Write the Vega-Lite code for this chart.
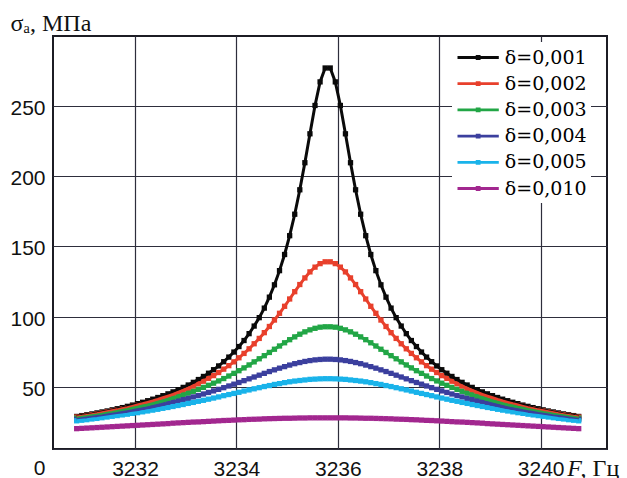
{
  "$schema": "https://vega.github.io/schema/vega-lite/v6.json",
  "width": 554,
  "height": 413,
  "autosize": {"type": "none"},
  "padding": {"left": 53, "top": 36, "right": 20, "bottom": 29},
  "background": "white",
  "config": {
    "view": {"stroke": "#1c1c24", "strokeWidth": 2},
    "axis": {
      "domain": false,
      "ticks": false,
      "grid": true,
      "gridColor": "#2e2e3c",
      "gridWidth": 1.2,
      "gridOpacity": 1,
      "labelFont": "Liberation Sans",
      "labelFontSize": 21,
      "labelColor": "#111111",
      "titleFont": "Liberation Serif",
      "titleFontSize": 24,
      "titleFontWeight": "normal",
      "titleColor": "#111111"
    },
    "legend": {
      "title": null,
      "orient": "none",
      "legendX": 399,
      "legendY": 6,
      "fillColor": "white",
      "padding": 4,
      "symbolType": "M-1,0H3.13M0.965,-0.1H1.165V0.1H0.965Z",
      "symbolSize": 400,
      "symbolStrokeWidth": 2.8,
      "labelFont": "DejaVu Serif",
      "labelFontSize": 19,
      "labelColor": "#000000",
      "labelOffset": 25.8,
      "labelLimit": 200,
      "rowPadding": 4.2
    }
  },
  "data": {
    "values": [
      {"F": 3230.85, "0,001": 28.8, "0,002": 28.4, "0,003": 27.6, "0,004": 26.7, "0,005": 25.7, "0,010": 20.1},
      {"F": 3230.95, "0,001": 29.4, "0,002": 28.9, "0,003": 28.2, "0,004": 27.2, "0,005": 26.1, "0,010": 20.3},
      {"F": 3231.05, "0,001": 30.0, "0,002": 29.5, "0,003": 28.7, "0,004": 27.7, "0,005": 26.5, "0,010": 20.5},
      {"F": 3231.15, "0,001": 30.6, "0,002": 30.1, "0,003": 29.3, "0,004": 28.2, "0,005": 27.0, "0,010": 20.7},
      {"F": 3231.25, "0,001": 31.3, "0,002": 30.7, "0,003": 29.8, "0,004": 28.7, "0,005": 27.4, "0,010": 20.9},
      {"F": 3231.35, "0,001": 32.0, "0,002": 31.4, "0,003": 30.4, "0,004": 29.2, "0,005": 27.9, "0,010": 21.1},
      {"F": 3231.45, "0,001": 32.7, "0,002": 32.1, "0,003": 31.1, "0,004": 29.8, "0,005": 28.4, "0,010": 21.3},
      {"F": 3231.55, "0,001": 33.5, "0,002": 32.8, "0,003": 31.7, "0,004": 30.4, "0,005": 28.9, "0,010": 21.5},
      {"F": 3231.65, "0,001": 34.3, "0,002": 33.5, "0,003": 32.4, "0,004": 30.9, "0,005": 29.4, "0,010": 21.7},
      {"F": 3231.75, "0,001": 35.1, "0,002": 34.3, "0,003": 33.1, "0,004": 31.6, "0,005": 29.9, "0,010": 21.9},
      {"F": 3231.85, "0,001": 36.0, "0,002": 35.1, "0,003": 33.8, "0,004": 32.2, "0,005": 30.4, "0,010": 22.1},
      {"F": 3231.95, "0,001": 36.9, "0,002": 36.0, "0,003": 34.6, "0,004": 32.8, "0,005": 31.0, "0,010": 22.3},
      {"F": 3232.05, "0,001": 37.9, "0,002": 36.9, "0,003": 35.3, "0,004": 33.5, "0,005": 31.5, "0,010": 22.5},
      {"F": 3232.15, "0,001": 38.9, "0,002": 37.8, "0,003": 36.2, "0,004": 34.2, "0,005": 32.1, "0,010": 22.7},
      {"F": 3232.25, "0,001": 40.0, "0,002": 38.8, "0,003": 37.0, "0,004": 34.9, "0,005": 32.7, "0,010": 22.9},
      {"F": 3232.35, "0,001": 41.1, "0,002": 39.8, "0,003": 37.9, "0,004": 35.7, "0,005": 33.3, "0,010": 23.1},
      {"F": 3232.45, "0,001": 42.3, "0,002": 40.9, "0,003": 38.9, "0,004": 36.5, "0,005": 33.9, "0,010": 23.3},
      {"F": 3232.55, "0,001": 43.6, "0,002": 42.1, "0,003": 39.8, "0,004": 37.3, "0,005": 34.6, "0,010": 23.5},
      {"F": 3232.65, "0,001": 44.9, "0,002": 43.3, "0,003": 40.9, "0,004": 38.1, "0,005": 35.2, "0,010": 23.7},
      {"F": 3232.75, "0,001": 46.3, "0,002": 44.5, "0,003": 41.9, "0,004": 39.0, "0,005": 35.9, "0,010": 24.0},
      {"F": 3232.85, "0,001": 47.9, "0,002": 45.9, "0,003": 43.1, "0,004": 39.8, "0,005": 36.6, "0,010": 24.2},
      {"F": 3232.95, "0,001": 49.5, "0,002": 47.3, "0,003": 44.2, "0,004": 40.8, "0,005": 37.3, "0,010": 24.4},
      {"F": 3233.05, "0,001": 51.2, "0,002": 48.8, "0,003": 45.4, "0,004": 41.7, "0,005": 38.1, "0,010": 24.6},
      {"F": 3233.15, "0,001": 53.1, "0,002": 50.4, "0,003": 46.7, "0,004": 42.7, "0,005": 38.8, "0,010": 24.8},
      {"F": 3233.25, "0,001": 55.1, "0,002": 52.1, "0,003": 48.1, "0,004": 43.7, "0,005": 39.6, "0,010": 24.9},
      {"F": 3233.35, "0,001": 57.3, "0,002": 53.9, "0,003": 49.5, "0,004": 44.8, "0,005": 40.3, "0,010": 25.1},
      {"F": 3233.45, "0,001": 59.6, "0,002": 55.9, "0,003": 51.0, "0,004": 45.9, "0,005": 41.1, "0,010": 25.3},
      {"F": 3233.55, "0,001": 62.1, "0,002": 57.9, "0,003": 52.5, "0,004": 47.0, "0,005": 41.9, "0,010": 25.5},
      {"F": 3233.65, "0,001": 64.8, "0,002": 60.1, "0,003": 54.1, "0,004": 48.1, "0,005": 42.7, "0,010": 25.7},
      {"F": 3233.75, "0,001": 67.8, "0,002": 62.5, "0,003": 55.8, "0,004": 49.3, "0,005": 43.6, "0,010": 25.9},
      {"F": 3233.85, "0,001": 71.1, "0,002": 65.0, "0,003": 57.6, "0,004": 50.5, "0,005": 44.4, "0,010": 26.0},
      {"F": 3233.95, "0,001": 74.7, "0,002": 67.7, "0,003": 59.5, "0,004": 51.8, "0,005": 45.2, "0,010": 26.2},
      {"F": 3234.05, "0,001": 78.6, "0,002": 70.6, "0,003": 61.4, "0,004": 53.0, "0,005": 46.0, "0,010": 26.4},
      {"F": 3234.15, "0,001": 82.9, "0,002": 73.7, "0,003": 63.4, "0,004": 54.3, "0,005": 46.9, "0,010": 26.5},
      {"F": 3234.25, "0,001": 87.8, "0,002": 77.0, "0,003": 65.5, "0,004": 55.6, "0,005": 47.7, "0,010": 26.7},
      {"F": 3234.35, "0,001": 93.2, "0,002": 80.6, "0,003": 67.7, "0,004": 56.9, "0,005": 48.5, "0,010": 26.8},
      {"F": 3234.45, "0,001": 99.2, "0,002": 84.4, "0,003": 69.9, "0,004": 58.2, "0,005": 49.3, "0,010": 26.9},
      {"F": 3234.55, "0,001": 106.0, "0,002": 88.5, "0,003": 72.1, "0,004": 59.5, "0,005": 50.1, "0,010": 27.1},
      {"F": 3234.65, "0,001": 113.8, "0,002": 92.9, "0,003": 74.4, "0,004": 60.8, "0,005": 50.8, "0,010": 27.2},
      {"F": 3234.75, "0,001": 122.6, "0,002": 97.5, "0,003": 76.7, "0,004": 62.0, "0,005": 51.6, "0,010": 27.3},
      {"F": 3234.85, "0,001": 132.7, "0,002": 102.3, "0,003": 79.0, "0,004": 63.2, "0,005": 52.2, "0,010": 27.4},
      {"F": 3234.95, "0,001": 144.2, "0,002": 107.3, "0,003": 81.3, "0,004": 64.3, "0,005": 52.9, "0,010": 27.5},
      {"F": 3235.05, "0,001": 157.6, "0,002": 112.5, "0,003": 83.5, "0,004": 65.4, "0,005": 53.5, "0,010": 27.5},
      {"F": 3235.15, "0,001": 172.9, "0,002": 117.7, "0,003": 85.5, "0,004": 66.4, "0,005": 54.0, "0,010": 27.6},
      {"F": 3235.25, "0,001": 190.3, "0,002": 122.8, "0,003": 87.4, "0,004": 67.2, "0,005": 54.4, "0,010": 27.7},
      {"F": 3235.35, "0,001": 209.6, "0,002": 127.5, "0,003": 89.1, "0,004": 68.0, "0,005": 54.8, "0,010": 27.7},
      {"F": 3235.45, "0,001": 230.2, "0,002": 131.8, "0,003": 90.5, "0,004": 68.6, "0,005": 55.2, "0,010": 27.8},
      {"F": 3235.55, "0,001": 250.4, "0,002": 135.2, "0,003": 91.6, "0,004": 69.1, "0,005": 55.4, "0,010": 27.8},
      {"F": 3235.65, "0,001": 267.2, "0,002": 137.7, "0,003": 92.4, "0,004": 69.4, "0,005": 55.6, "0,010": 27.8},
      {"F": 3235.75, "0,001": 277.1, "0,002": 139.0, "0,003": 92.7, "0,004": 69.6, "0,005": 55.7, "0,010": 27.8},
      {"F": 3235.85, "0,001": 277.1, "0,002": 139.0, "0,003": 92.7, "0,004": 69.6, "0,005": 55.7, "0,010": 27.8},
      {"F": 3235.95, "0,001": 267.2, "0,002": 137.7, "0,003": 92.4, "0,004": 69.4, "0,005": 55.6, "0,010": 27.8},
      {"F": 3236.05, "0,001": 250.4, "0,002": 135.2, "0,003": 91.6, "0,004": 69.1, "0,005": 55.4, "0,010": 27.8},
      {"F": 3236.15, "0,001": 230.2, "0,002": 131.8, "0,003": 90.5, "0,004": 68.6, "0,005": 55.2, "0,010": 27.8},
      {"F": 3236.25, "0,001": 209.6, "0,002": 127.5, "0,003": 89.1, "0,004": 68.0, "0,005": 54.8, "0,010": 27.7},
      {"F": 3236.35, "0,001": 190.3, "0,002": 122.8, "0,003": 87.4, "0,004": 67.2, "0,005": 54.4, "0,010": 27.7},
      {"F": 3236.45, "0,001": 172.9, "0,002": 117.7, "0,003": 85.5, "0,004": 66.4, "0,005": 54.0, "0,010": 27.6},
      {"F": 3236.55, "0,001": 157.6, "0,002": 112.5, "0,003": 83.5, "0,004": 65.4, "0,005": 53.5, "0,010": 27.5},
      {"F": 3236.65, "0,001": 144.2, "0,002": 107.3, "0,003": 81.3, "0,004": 64.3, "0,005": 52.9, "0,010": 27.5},
      {"F": 3236.75, "0,001": 132.7, "0,002": 102.3, "0,003": 79.0, "0,004": 63.2, "0,005": 52.2, "0,010": 27.4},
      {"F": 3236.85, "0,001": 122.6, "0,002": 97.5, "0,003": 76.7, "0,004": 62.0, "0,005": 51.6, "0,010": 27.3},
      {"F": 3236.95, "0,001": 113.8, "0,002": 92.9, "0,003": 74.4, "0,004": 60.8, "0,005": 50.8, "0,010": 27.2},
      {"F": 3237.05, "0,001": 106.0, "0,002": 88.5, "0,003": 72.1, "0,004": 59.5, "0,005": 50.1, "0,010": 27.1},
      {"F": 3237.15, "0,001": 99.2, "0,002": 84.4, "0,003": 69.9, "0,004": 58.2, "0,005": 49.3, "0,010": 26.9},
      {"F": 3237.25, "0,001": 93.2, "0,002": 80.6, "0,003": 67.7, "0,004": 56.9, "0,005": 48.5, "0,010": 26.8},
      {"F": 3237.35, "0,001": 87.8, "0,002": 77.0, "0,003": 65.5, "0,004": 55.6, "0,005": 47.7, "0,010": 26.7},
      {"F": 3237.45, "0,001": 82.9, "0,002": 73.7, "0,003": 63.4, "0,004": 54.3, "0,005": 46.9, "0,010": 26.5},
      {"F": 3237.55, "0,001": 78.6, "0,002": 70.6, "0,003": 61.4, "0,004": 53.0, "0,005": 46.0, "0,010": 26.4},
      {"F": 3237.65, "0,001": 74.7, "0,002": 67.7, "0,003": 59.5, "0,004": 51.8, "0,005": 45.2, "0,010": 26.2},
      {"F": 3237.75, "0,001": 71.1, "0,002": 65.0, "0,003": 57.6, "0,004": 50.5, "0,005": 44.4, "0,010": 26.0},
      {"F": 3237.85, "0,001": 67.8, "0,002": 62.5, "0,003": 55.8, "0,004": 49.3, "0,005": 43.6, "0,010": 25.9},
      {"F": 3237.95, "0,001": 64.8, "0,002": 60.1, "0,003": 54.1, "0,004": 48.1, "0,005": 42.7, "0,010": 25.7},
      {"F": 3238.05, "0,001": 62.1, "0,002": 57.9, "0,003": 52.5, "0,004": 47.0, "0,005": 41.9, "0,010": 25.5},
      {"F": 3238.15, "0,001": 59.6, "0,002": 55.9, "0,003": 51.0, "0,004": 45.9, "0,005": 41.1, "0,010": 25.3},
      {"F": 3238.25, "0,001": 57.3, "0,002": 53.9, "0,003": 49.5, "0,004": 44.8, "0,005": 40.3, "0,010": 25.1},
      {"F": 3238.35, "0,001": 55.1, "0,002": 52.1, "0,003": 48.1, "0,004": 43.7, "0,005": 39.6, "0,010": 24.9},
      {"F": 3238.45, "0,001": 53.1, "0,002": 50.4, "0,003": 46.7, "0,004": 42.7, "0,005": 38.8, "0,010": 24.8},
      {"F": 3238.55, "0,001": 51.2, "0,002": 48.8, "0,003": 45.4, "0,004": 41.7, "0,005": 38.1, "0,010": 24.6},
      {"F": 3238.65, "0,001": 49.5, "0,002": 47.3, "0,003": 44.2, "0,004": 40.8, "0,005": 37.3, "0,010": 24.4},
      {"F": 3238.75, "0,001": 47.9, "0,002": 45.9, "0,003": 43.1, "0,004": 39.8, "0,005": 36.6, "0,010": 24.2},
      {"F": 3238.85, "0,001": 46.3, "0,002": 44.5, "0,003": 41.9, "0,004": 39.0, "0,005": 35.9, "0,010": 24.0},
      {"F": 3238.95, "0,001": 44.9, "0,002": 43.3, "0,003": 40.9, "0,004": 38.1, "0,005": 35.2, "0,010": 23.7},
      {"F": 3239.05, "0,001": 43.6, "0,002": 42.1, "0,003": 39.8, "0,004": 37.3, "0,005": 34.6, "0,010": 23.5},
      {"F": 3239.15, "0,001": 42.3, "0,002": 40.9, "0,003": 38.9, "0,004": 36.5, "0,005": 33.9, "0,010": 23.3},
      {"F": 3239.25, "0,001": 41.1, "0,002": 39.8, "0,003": 37.9, "0,004": 35.7, "0,005": 33.3, "0,010": 23.1},
      {"F": 3239.35, "0,001": 40.0, "0,002": 38.8, "0,003": 37.0, "0,004": 34.9, "0,005": 32.7, "0,010": 22.9},
      {"F": 3239.45, "0,001": 38.9, "0,002": 37.8, "0,003": 36.2, "0,004": 34.2, "0,005": 32.1, "0,010": 22.7},
      {"F": 3239.55, "0,001": 37.9, "0,002": 36.9, "0,003": 35.3, "0,004": 33.5, "0,005": 31.5, "0,010": 22.5},
      {"F": 3239.65, "0,001": 36.9, "0,002": 36.0, "0,003": 34.6, "0,004": 32.8, "0,005": 31.0, "0,010": 22.3},
      {"F": 3239.75, "0,001": 36.0, "0,002": 35.1, "0,003": 33.8, "0,004": 32.2, "0,005": 30.4, "0,010": 22.1},
      {"F": 3239.85, "0,001": 35.1, "0,002": 34.3, "0,003": 33.1, "0,004": 31.6, "0,005": 29.9, "0,010": 21.9},
      {"F": 3239.95, "0,001": 34.3, "0,002": 33.5, "0,003": 32.4, "0,004": 30.9, "0,005": 29.4, "0,010": 21.7},
      {"F": 3240.05, "0,001": 33.5, "0,002": 32.8, "0,003": 31.7, "0,004": 30.4, "0,005": 28.9, "0,010": 21.5},
      {"F": 3240.15, "0,001": 32.7, "0,002": 32.1, "0,003": 31.1, "0,004": 29.8, "0,005": 28.4, "0,010": 21.3},
      {"F": 3240.25, "0,001": 32.0, "0,002": 31.4, "0,003": 30.4, "0,004": 29.2, "0,005": 27.9, "0,010": 21.1},
      {"F": 3240.35, "0,001": 31.3, "0,002": 30.7, "0,003": 29.8, "0,004": 28.7, "0,005": 27.4, "0,010": 20.9},
      {"F": 3240.45, "0,001": 30.6, "0,002": 30.1, "0,003": 29.3, "0,004": 28.2, "0,005": 27.0, "0,010": 20.7},
      {"F": 3240.55, "0,001": 30.0, "0,002": 29.5, "0,003": 28.7, "0,004": 27.7, "0,005": 26.5, "0,010": 20.5},
      {"F": 3240.65, "0,001": 29.4, "0,002": 28.9, "0,003": 28.2, "0,004": 27.2, "0,005": 26.1, "0,010": 20.3},
      {"F": 3240.75, "0,001": 28.8, "0,002": 28.4, "0,003": 27.6, "0,004": 26.7, "0,005": 25.7, "0,010": 20.1}
    ]
  },
  "transform": [
    {"fold": ["0,001", "0,002", "0,003", "0,004", "0,005", "0,010"], "as": ["delta", "sigma"]}
  ],
  "encoding": {
    "y": {
      "field": "sigma",
      "type": "quantitative",
      "scale": {"domain": [5.6, 299.9], "nice": false, "zero": false, "clamp": true},
      "axis": {
        "values": [0, 50, 100, 150, 200, 250],
        "labelPadding": 8,
        "labelOffset": {"condition": {"test": "datum.value == 0", "value": 19.5}, "value": 2.5},
        "title": "σₐ, МПа",
        "titleAngle": 0,
        "titleX": -43,
        "titleY": -6,
        "titleAlign": "left",
        "titleBaseline": "alphabetic"
      }
    }
  },
  "resolve": {"axis": {"x": "independent"}},
  "layer": [
    {
      "mark": {"type": "point", "shape": "square", "filled": true, "size": 28, "opacity": 1},
      "encoding": {
        "x": {
          "field": "F",
          "type": "quantitative",
          "scale": {"domain": [3230.383, 3241.308], "nice": false, "zero": false},
          "axis": {
            "orient": "bottom",
            "values": [3232, 3234, 3236, 3238, 3240],
            "labels": false,
            "grid": true,
            "title": "F",
            "titleFontStyle": "italic",
            "titleX": 513.7,
            "titleY": 26,
            "titleAlign": "left",
            "titleBaseline": "alphabetic"
          }
        },
        "fill": {
          "field": "delta",
          "type": "nominal",
          "scale": {
            "domain": ["0,001", "0,002", "0,003", "0,004", "0,005", "0,010"],
            "range": ["#0a0a0a", "#e8402c", "#22a646", "#3b3f9e", "#19b3ea", "#a2278f"]
          },
          "legend": {"labelExpr": "'δ=' + datum.label"}
        }
      }
    },
    {
      "mark": {"type": "line", "strokeWidth": 3},
      "encoding": {
        "x": {
          "field": "F",
          "type": "quantitative",
          "scale": {"domain": [3230.383, 3241.308], "nice": false, "zero": false},
          "axis": {
            "orient": "bottom",
            "values": [3232, 3234, 3236, 3238, 3240],
            "format": "d",
            "grid": false,
            "labelPadding": 9,
            "title": ", Гц",
            "titleX": 527,
            "titleY": 26,
            "titleAlign": "left",
            "titleBaseline": "alphabetic"
          }
        },
        "color": {
          "field": "delta",
          "type": "nominal",
          "scale": {
            "domain": ["0,001", "0,002", "0,003", "0,004", "0,005", "0,010"],
            "range": ["#0a0a0a", "#e8402c", "#22a646", "#3b3f9e", "#19b3ea", "#a2278f"]
          },
          "legend": {"labelExpr": "'δ=' + datum.label"}
        }
      }
    }
  ]
}
